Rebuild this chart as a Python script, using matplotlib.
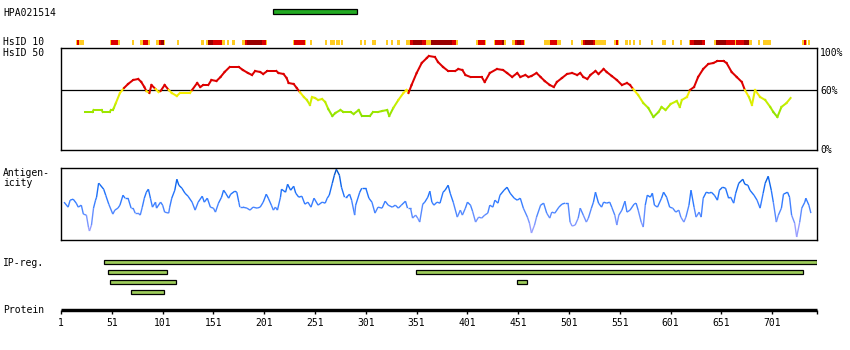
import numpy as np
import matplotlib
matplotlib.use('Agg')
import matplotlib.pyplot as plt
from matplotlib.collections import LineCollection
from matplotlib.colors import LinearSegmentedColormap, Normalize

# ---------------- data ----------------
protein_length = 745
antibody_name = "HPA021514"
antigen_start = 210
antigen_end = 292

# HsID 10 row: (start, end, level) level 1=gold, 2=red, 3=dark red
hsid10_start = [16, 17, 19, 49, 50, 57, 71, 79, 82, 87, 94, 97, 99, 102, 115, 139,
                144, 146, 151, 159, 164, 169, 179, 182, 184, 199, 203, 229, 230, 241,
                246, 261, 266, 272, 277, 295, 299, 307, 321, 326, 332, 341, 344, 347,
                356, 360, 365, 386, 390, 409, 411, 418, 427, 428, 435, 437, 445, 448,
                450, 454, 457, 476, 482, 489, 503, 513, 515, 517, 525, 527, 545, 547,
                549, 556, 560, 564, 570, 582, 592, 602, 610, 619, 620, 624, 632, 644,
                646, 655, 664, 665, 673, 678, 687, 692, 730, 732, 734, 736]
hsid10_end = [17, 19, 24, 50, 57, 59, 73, 82, 87, 89, 97, 99, 102, 103, 117, 142,
              146, 151, 159, 162, 166, 172, 182, 184, 199, 203, 204, 230, 241, 242,
              248, 263, 271, 276, 279, 297, 301, 311, 323, 328, 335, 344, 347, 356,
              360, 365, 386, 390, 392, 411, 418, 419, 428, 435, 437, 439, 448, 450,
              454, 457, 458, 482, 489, 493, 505, 515, 517, 525, 527, 537, 547, 549,
              550, 559, 562, 566, 572, 584, 596, 604, 612, 620, 624, 632, 635, 646,
              655, 664, 665, 673, 678, 681, 689, 700, 732, 734, 735, 738]
hsid10_level = [1, 2, 1, 1, 2, 1, 1, 1, 2, 1, 1, 2, 3, 1, 1, 1,
                1, 3, 2, 1, 1, 1, 1, 2, 3, 2, 1, 1, 2, 1,
                1, 1, 1, 1, 1, 1, 1, 1, 1, 1, 1, 1, 2, 3,
                2, 1, 3, 2, 1, 1, 2, 1, 1, 2, 3, 1, 1, 2,
                3, 2, 1, 1, 2, 1, 1, 1, 2, 3, 2, 1, 1, 2,
                1, 1, 1, 1, 1, 1, 1, 1, 1, 1, 2, 3, 2, 1,
                3, 2, 1, 2, 3, 1, 1, 1, 1, 2, 1, 1]

# HsID 50 curve (% identity)
hsid50_res = [25, 32, 33, 41, 42, 49, 50, 52, 53, 55, 59, 63, 67, 72, 77, 80, 83, 85, 88, 90,
              94, 97, 99, 103, 107, 110, 115, 118, 128, 130, 135, 138, 141, 146, 149, 154,
              158, 162, 167, 176, 180, 185, 189, 192, 197, 200, 204, 213, 215, 220, 223,
              225, 230, 233, 236, 240, 243, 246, 248, 251, 254, 258, 261, 264, 268, 271,
              276, 279, 286, 289, 294, 297, 305, 308, 313, 317, 322, 324, 328, 333, 338,
              341, 343, 346, 351, 356, 361, 363, 369, 372, 377, 382, 389, 392, 396, 399,
              404, 415, 418, 423, 430, 436, 440, 445, 450, 453, 458, 461, 464, 469, 473,
              477, 482, 486, 489, 494, 499, 504, 509, 512, 515, 519, 522, 527, 530, 535,
              538, 543, 548, 553, 558, 561, 564, 569, 574, 579, 584, 589, 592, 596, 601,
              607, 610, 612, 617, 620, 624, 628, 633, 638, 643, 647, 653, 656, 661, 666,
              671, 674, 678, 681, 684, 689, 694, 699, 702, 706, 710, 715, 719]
hsid50_val = [38, 38, 40, 40, 38, 38, 40, 40, 42, 47, 57, 62, 66, 70, 71, 68, 63, 59, 57, 65,
              61, 58, 59, 65, 60, 57, 54, 57, 57, 60, 67, 63, 65, 65, 70, 69,
              73, 78, 83, 83, 80, 77, 75, 79, 78, 76, 79, 79, 77, 76, 72,
              67, 66, 62, 58, 53, 50, 45, 53, 52, 50, 51, 48, 41, 34, 37,
              40, 38, 38, 36, 40, 34, 34, 38, 38, 39, 40, 34, 42, 50, 57,
              60, 57, 65, 77, 87, 92, 94, 93, 88, 83, 79, 79, 81, 80, 75,
              73, 73, 68, 77, 81, 80, 77, 73, 77, 73, 75, 73, 74, 77, 73,
              69, 65, 63, 68, 72, 76, 77, 75, 77, 73, 71, 75, 79, 76, 81,
              78, 74, 70, 65, 67, 65, 61, 55, 47, 42, 33, 38, 43, 40, 46,
              49, 43, 50, 53, 60, 63, 73, 81, 86, 87, 89, 89, 87, 78, 73,
              68, 60, 53, 45, 60, 53, 50, 43, 38, 33, 43, 47, 52]

# Antigenicity profile
antig_res = [4, 8, 10, 13, 16, 18, 21, 23, 26, 28, 29, 31, 33, 35, 36, 38, 39, 43, 45, 48,
             52, 54, 57, 59, 62, 64, 67, 70, 72, 74, 77, 79, 81, 83, 85, 87, 89, 91, 94, 95,
             99, 101, 103, 107, 108, 110, 113, 115, 117, 120, 123, 126, 130, 133, 136, 140,
             142, 145, 148, 151, 153, 156, 159, 161, 163, 166, 168, 172, 174, 176, 177, 180,
             184, 187, 190, 194, 197, 200, 203, 205, 208, 210, 212, 214, 217, 218, 222, 224,
             227, 230, 232, 235, 238, 241, 244, 247, 250, 254, 258, 261, 263, 265, 268, 270,
             272, 275, 277, 280, 282, 285, 287, 290, 291, 295, 297, 301, 304, 307, 310, 313,
             317, 320, 323, 327, 330, 333, 336, 340, 342, 345, 347, 350, 352, 354, 357, 359,
             362, 364, 366, 368, 371, 374, 377, 379, 382, 384, 387, 391, 394, 396, 399, 401,
             404, 406, 409, 412, 415, 418, 421, 423, 426, 428, 431, 433, 437, 440, 443, 447,
             450, 453, 456, 460, 462, 464, 467, 469, 473, 476, 479, 482, 484, 487, 491, 494,
             497, 500, 502, 504, 507, 510, 512, 515, 518, 520, 523, 525, 527, 530, 533, 535,
             538, 541, 543, 546, 548, 550, 553, 556, 558, 561, 565, 567, 569, 572, 574, 576,
             578, 581, 583, 585, 588, 592, 594, 597, 600, 603, 606, 609, 611, 614, 616, 619,
             621, 624, 626, 629, 631, 633, 636, 639, 641, 644, 647, 649, 652, 655, 658, 660,
             663, 665, 668, 672, 674, 677, 679, 683, 686, 689, 692, 694, 697, 700, 702, 705,
             707, 710, 712, 716, 718, 720, 723, 725, 728, 730, 733, 734, 737, 739]
antig_val = [38, 33, 40, 41, 37, 33, 35, 26, 25, 13, 9, 15, 32, 40, 43, 57, 56, 51, 45, 36,
             26, 30, 32, 35, 45, 42, 42, 32, 32, 27, 27, 25, 33, 42, 48, 51, 42, 33, 38, 32,
             38, 35, 28, 27, 33, 42, 50, 61, 55, 52, 47, 44, 38, 30, 38, 44,
             38, 42, 33, 32, 28, 37, 43, 50, 47, 42, 46, 49, 48, 38, 33, 33,
             32, 30, 33, 32, 33, 38, 46, 42, 35, 30, 33, 30, 43, 51, 48, 56,
             50, 54, 47, 43, 44, 36, 38, 33, 42, 35, 38, 37, 42, 45, 57, 65,
             71, 65, 53, 43, 43, 46, 40, 25, 35, 48, 52, 52, 42, 38, 27, 33,
             32, 39, 35, 33, 35, 32, 35, 39, 32, 32, 22, 25, 22, 18, 36, 38,
             43, 49, 38, 35, 38, 37, 48, 50, 55, 47, 38, 23, 30, 25, 32, 38,
             35, 29, 18, 23, 22, 25, 27, 35, 33, 40, 37, 45, 50, 53, 47, 42,
             40, 42, 32, 23, 17, 7, 15, 23, 35, 37, 27, 22, 28, 27, 33, 36,
             37, 37, 18, 14, 15, 22, 32, 25, 18, 22, 32, 38, 48, 37, 33, 38,
             37, 38, 33, 25, 15, 25, 30, 39, 28, 30, 36, 37, 30, 18, 13, 35,
             45, 43, 47, 35, 33, 42, 48, 43, 33, 32, 28, 30, 23, 18, 23, 35,
             50, 33, 23, 28, 23, 42, 48, 47, 48, 45, 40, 50, 53, 52, 42, 43,
             37, 47, 57, 61, 56, 55, 50, 45, 40, 32, 47, 57, 64, 50, 38, 18,
             25, 32, 46, 48, 43, 25, 17, 3, 18, 32, 38, 42, 35, 27]

# IP-reg bars
ip_start = [43, 47, 350, 49, 450, 70]
ip_end = [745, 105, 731, 114, 460, 102]
ip_row = [0, 1, 1, 2, 2, 3]

tick_pos = [1, 51, 101, 151, 201, 251, 301, 351, 401, 451, 501, 551, 601, 651, 701, 745]
tick_labels = ['1', '51', '101', '151', '201', '251', '301', '351', '401', '451', '501',
               '551', '601', '651', '701', '']

# ---------------- layout ----------------
W, H = 850, 350
plt.rcParams['font.family'] = ['DejaVu Sans Mono']
FS = 7
fig = plt.figure(figsize=(W / 100, H / 100), dpi=100)
fig.patch.set_facecolor('white')

X0, X1 = 61, 817


def px_axes(y0, y1, x0=X0, x1=X1):
    return fig.add_axes([x0 / W, 1 - y1 / H, (x1 - x0) / W, (y1 - y0) / H])


def ptext(x, y, s, ha='left'):
    fig.text(x / W, 1 - y / H, s, ha=ha, va='baseline', fontsize=FS, color='black')


def bare(ax):
    ax.set_xlim(1, protein_length)
    for sp in ax.spines.values():
        sp.set_visible(False)
    ax.set_xticks([])
    ax.set_yticks([])
    ax.patch.set_alpha(0)


# antibody bar
ax_a = px_axes(5, 18)
bare(ax_a)
ax_a.set_ylim(-0.65, 0.65)
ax_a.barh([0], [antigen_end - antigen_start], left=[antigen_start], height=0.42,
          color='#22aa22', edgecolor='black', linewidth=0.9)

# HsID 10 row
ax_10 = px_axes(40, 45)
bare(ax_10)
ax_10.set_ylim(0, 1)
lvl_colors = {1: '#ffcc22', 2: '#dd0000', 3: '#990000'}
for s, e, l in zip(hsid10_start, hsid10_end, hsid10_level):
    ax_10.broken_barh([(s, e - s)], (0, 1), facecolors=lvl_colors[l], linewidth=0)

# HsID 50 box
ax_h = px_axes(48.3, 150)
ax_h.set_xlim(1, protein_length)
ax_h.set_ylim(0, 101.7)
ax_h.set_xticks([])
ax_h.set_yticks([])
for sp in ax_h.spines.values():
    sp.set_linewidth(1.0)
ax_h.axhline(60, color='black', linewidth=0.9, zorder=1)
hs_cmap = LinearSegmentedColormap.from_list(
    'hs', [(0.0, '#77dd00'), (0.5, '#bbee00'), (0.83, '#eeee00'), (1.0, '#ffee00')])
hr = np.array(hsid50_res, float)
hv = np.array(hsid50_val, float)
pts = np.column_stack([hr, hv]).reshape(-1, 1, 2)
segs = np.concatenate([pts[:-1], pts[1:]], axis=1)
mid = (hv[:-1] + hv[1:]) / 2
cols = []
for m in mid:
    if m >= 60:
        cols.append('#dd0000')
    else:
        cols.append(hs_cmap(np.clip((m - 30) / 30, 0, 1)))
lc = LineCollection(segs, colors=cols, linewidths=1.45, capstyle='projecting', zorder=2)
ax_h.add_collection(lc)

# Antigenicity
ax_g = px_axes(168.3, 240)
ax_g.set_xlim(1, protein_length)
ax_g.set_ylim(0, 72)
ax_g.set_xticks([])
ax_g.set_yticks([])
for sp in ax_g.spines.values():
    sp.set_linewidth(1.0)
ag_cmap = LinearSegmentedColormap.from_list(
    'ag', [(0.0, '#b4a4ff'), (0.2, '#8c9cff'), (0.4, '#5088ff'), (0.6, '#2a78ff'),
           (0.8, '#0d66ee'), (1.0, '#0050c0')])
gr = np.array(antig_res, float)
gv = np.array(antig_val, float)
pts = np.column_stack([gr, gv]).reshape(-1, 1, 2)
segs = np.concatenate([pts[:-1], pts[1:]], axis=1)
gmid = (gv[:-1] + gv[1:]) / 2
lc2 = LineCollection(segs, cmap=ag_cmap, norm=Normalize(0, 72), linewidths=1.0)
lc2.set_array(gmid)
ax_g.add_collection(lc2)

# IP-reg bars
ax_ip = px_axes(257.3, 297.3)
bare(ax_ip)
ax_ip.set_ylim(3.5, -0.5)
ax_ip.barh(ip_row, np.array(ip_end) - np.array(ip_start), left=ip_start, height=0.4,
           color='#9dcc5a', edgecolor='black', linewidth=0.9)

# Protein axis
ax_p = px_axes(300, 310)
ax_p.set_xlim(1, protein_length)
ax_p.set_yticks([])
for k in ['top', 'left', 'right']:
    ax_p.spines[k].set_visible(False)
ax_p.spines['bottom'].set_linewidth(2.45)
ax_p.spines['bottom'].set_capstyle('butt')
ax_p.patch.set_alpha(0)
ax_p.set_xticks(tick_pos)
ax_p.set_xticklabels(tick_labels, fontsize=FS)
ax_p.tick_params(axis='x', direction='out', length=2.6, width=1.0, pad=3.0)

# Text labels
ptext(3, 16, antibody_name)
ptext(3, 45, 'HsID 10')
ptext(3, 56, 'HsID 50')
ptext(3, 176, 'Antigen-')
ptext(3, 185.5, 'icity')
ptext(3, 265.7, 'IP-reg.')
ptext(3, 313.3, 'Protein')
ptext(820, 56, '100%')
ptext(820, 94, '60%')
ptext(820, 153.3, '0%')

fig.savefig('out.png', dpi=100, facecolor='white')
